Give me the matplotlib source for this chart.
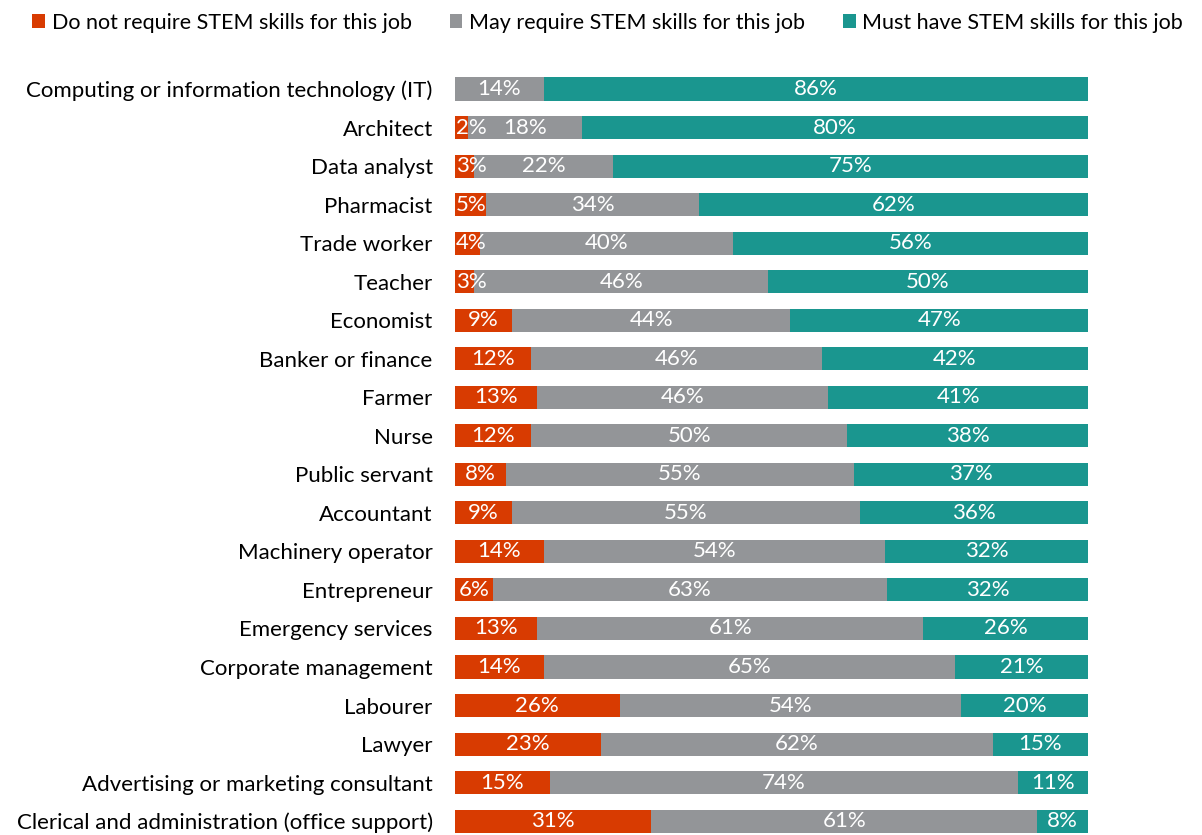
import matplotlib.pyplot as plt
import numpy as np

jobs = [
    "Computing or information technology (IT)", "Architect", "Data analyst",
    "Pharmacist", "Trade worker", "Teacher", "Economist", "Banker or finance",
    "Farmer", "Nurse", "Public servant", "Accountant", "Machinery operator",
    "Entrepreneur", "Emergency services", "Corporate management", "Labourer",
    "Lawyer", "Advertising or marketing consultant",
    "Clerical and administration (office support)",
]
do_not = [0, 2, 3, 5, 4, 3, 9, 12, 13, 12, 8, 9, 14, 6, 13, 14, 26, 23, 15, 31]
may = [14, 18, 22, 34, 40, 46, 44, 46, 46, 50, 55, 55, 54, 63, 61, 65, 54, 62, 74, 61]
must = [86, 80, 75, 62, 56, 50, 47, 42, 41, 38, 37, 36, 32, 32, 26, 21, 20, 15, 11, 8]

series_names = ["Do not require STEM skills for this job",
                "May require STEM skills for this job",
                "Must have STEM skills for this job"]
colors = ["#D83B01", "#939598", "#1A968F"]

plt.rcParams['font.family'] = ['Lato', 'DejaVu Sans']

data = np.array([do_not, may, must], dtype=float)
shares = data / data.sum(axis=0) * 100

fig = plt.figure(figsize=(12.02, 8.35), dpi=100)
ax = fig.add_axes([0.3785, 0.0, 0.5266, 0.916])

y = np.arange(len(jobs))
left = np.zeros(len(jobs))
for i in range(3):
    ax.barh(y, shares[i], left=left, height=0.6, color=colors[i],
            label=series_names[i])
    for j in range(len(jobs)):
        if data[i, j] == 0:
            continue
        label = f"{int(data[i, j])}%"
        if i == 0 and data[i, j] < 6:
            # small first segment: label starts at the bar's left edge
            ax.text(0.15, y[j], label, ha='left', va='center',
                    color='white', fontsize=16)
        else:
            ax.text(left[j] + shares[i, j] / 2, y[j], label,
                    ha='center', va='center', color='white', fontsize=16)
    left += shares[i]

ax.set_xlim(0, 100)
ax.set_ylim(19.36, -0.49)
ax.set_yticks(y)
ax.set_yticklabels(jobs, fontsize=16)
ax.tick_params(axis='y', length=0, pad=16)
ax.set_xticks([])
for s in ax.spines.values():
    s.set_visible(False)

fig.legend(loc='upper center', bbox_to_anchor=(0.5055, 1.008), ncol=3,
           frameon=False, fontsize=15.5, handlelength=0.6, handleheight=0.6,
           handletextpad=0.3, columnspacing=1.75)

fig.savefig("out.png", dpi=100)
